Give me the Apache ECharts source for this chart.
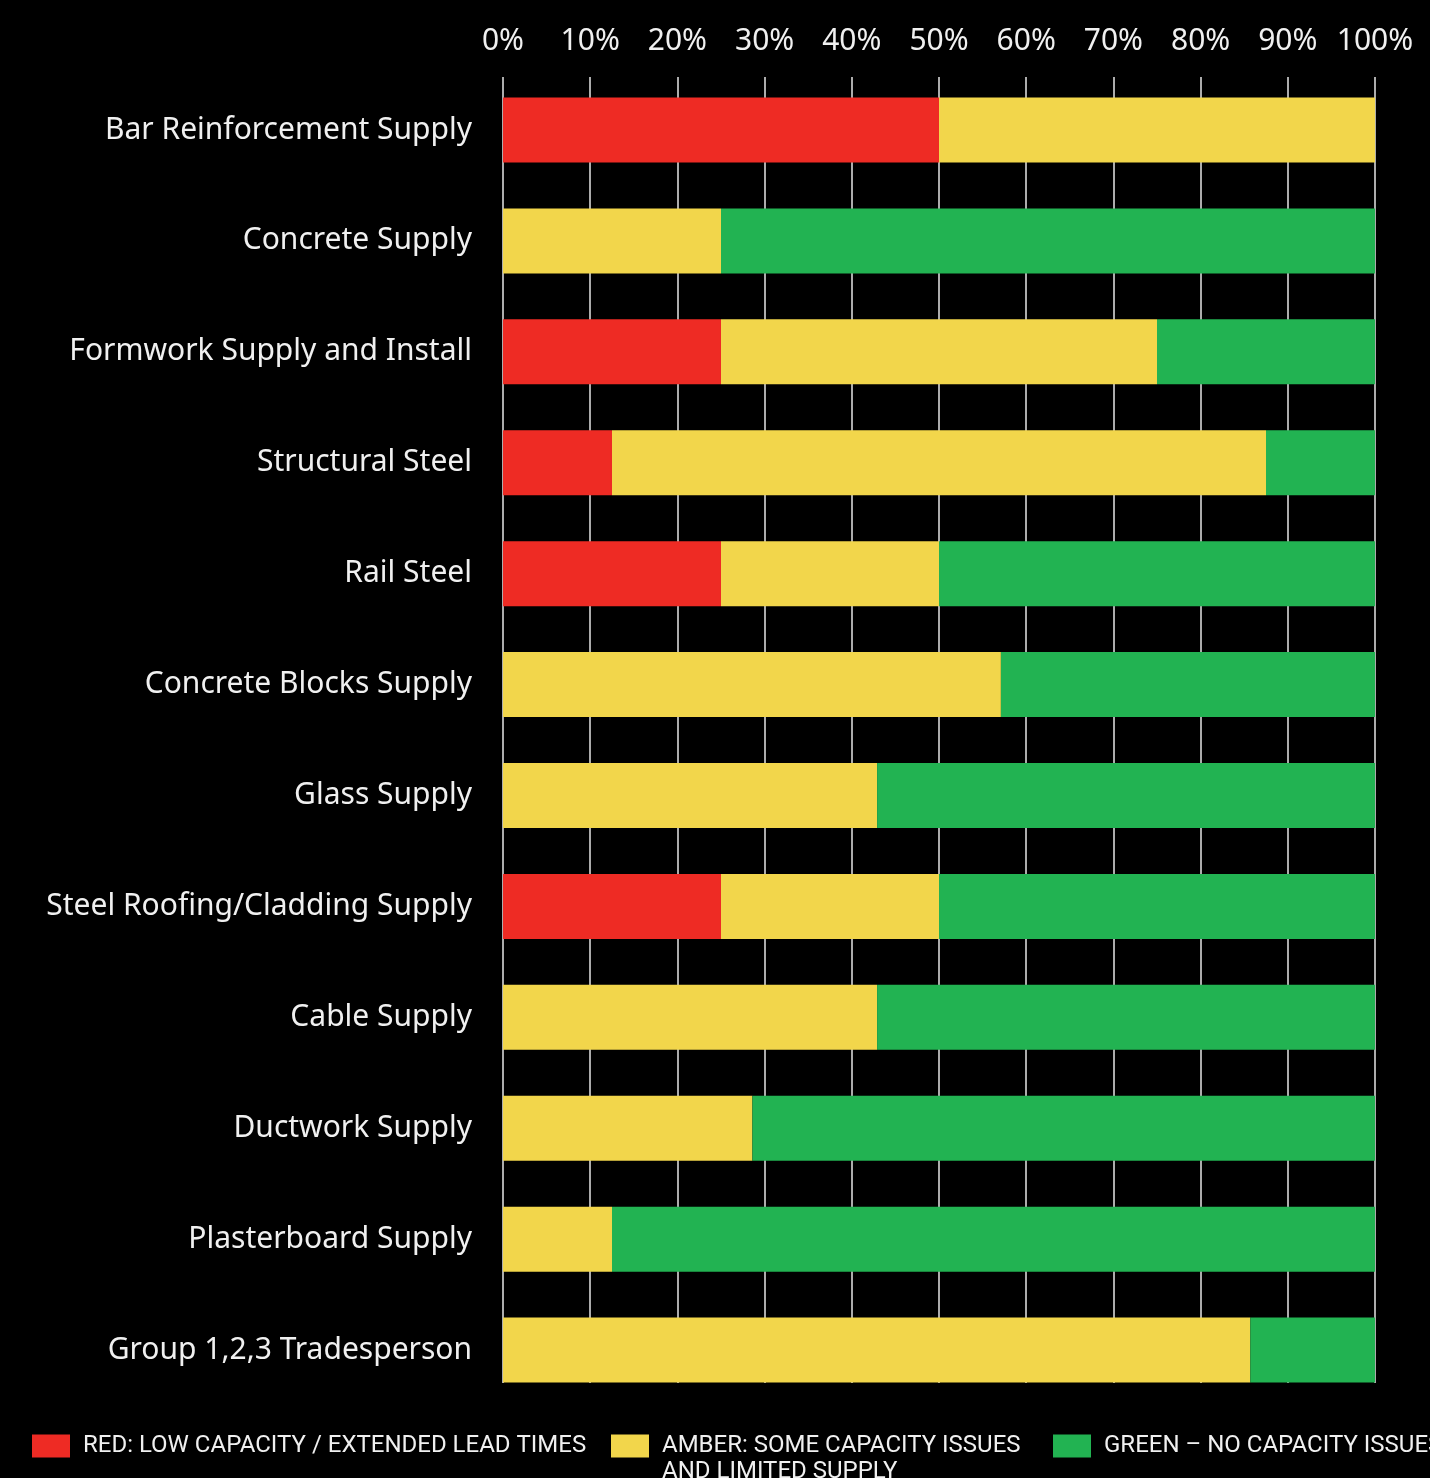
<!DOCTYPE html>
<html>
<head>
<meta charset="utf-8">
<script src="https://cdn.jsdelivr.net/npm/echarts@6/dist/echarts.min.js"></script>
<style>
  html, body { margin: 0; padding: 0; background: #000; }
  #chart { width: 1430px; height: 1478px; }
</style>
</head>
<body>
<div id="chart"></div>
<script>
// Supply-chain capacity ratings, share of responses per category (%)
const categories = [
  'Bar Reinforcement Supply',
  'Concrete Supply',
  'Formwork Supply and Install',
  'Structural Steel',
  'Rail Steel',
  'Concrete Blocks Supply',
  'Glass Supply',
  'Steel Roofing/Cladding Supply',
  'Cable Supply',
  'Ductwork Supply',
  'Plasterboard Supply',
  'Group 1,2,3 Tradesperson'
];
const redValues   = [50, 0, 25, 12.5, 25, 0, 0, 25, 0, 0, 0, 0];
const amberValues = [50, 25, 50, 75, 25, 57.1, 42.9, 25, 42.9, 28.6, 12.5, 85.7];
const greenValues = [0, 75, 25, 12.5, 50, 42.9, 57.1, 50, 57.1, 71.4, 87.5, 14.3];

const seriesNames = [
  'RED: LOW CAPACITY / EXTENDED LEAD TIMES',
  'AMBER: SOME CAPACITY ISSUES AND LIMITED SUPPLY',
  'GREEN \u2013 NO CAPACITY ISSUES'
];
const seriesColors = ['#EE2B24', '#F2D64B', '#22B352'];

const FONT = '"Noto Sans", "Open Sans", sans-serif';
const LEGEND_FONT = '"Liberation Sans Narrow", "Roboto", sans-serif';

const chart = echarts.init(document.getElementById('chart'), null, { renderer: 'canvas' });

// Each legend label is a three-line block centred on its swatch, so the
// first visible line sits level with the swatch.
function legendLabel(name) {
  if (name === seriesNames[0]) return '{r| }\n{r|' + name + '}\n{r| }';
  if (name === seriesNames[1]) return '{a| }\n{a|AMBER: SOME CAPACITY ISSUES}\n{a|AND LIMITED SUPPLY}';
  return '{g| }\n{g|' + name + '}\n{g| }';
}

const option = {
  backgroundColor: '#000000',
  animation: false,
  grid: [
    { left: 503, width: 872, top: 74.5, bottom: 72.5 },
    { left: 503, width: 872, top: 77, height: 1306 }
  ],
  legend: {
    left: 32,
    top: 1408,
    width: 2000,
    padding: 0,
    itemGap: 0,
    itemWidth: 38,
    itemHeight: 23,
    icon: 'rect',
    selectedMode: false,
    data: seriesNames,
    formatter: legendLabel,
    textStyle: {
      color: '#f0f0f0',
      fontFamily: LEGEND_FONT,
      fontSize: 24,
      padding: [0, 0, 0, 8],
      rich: {
        r: { width: 528, lineHeight: 26, fontFamily: LEGEND_FONT, fontSize: 24 },
        a: { width: 391, lineHeight: 26, fontFamily: LEGEND_FONT, fontSize: 24 },
        g: { width: 400, lineHeight: 26, fontFamily: LEGEND_FONT, fontSize: 24 }
      }
    }
  },
  xAxis: [
    {
      gridIndex: 0, type: 'value', min: 0, max: 100, interval: 10,
      show: false
    },
    {
      gridIndex: 1, type: 'value', min: 0, max: 100, interval: 10,
      position: 'top',
      axisLine: { show: false },
      axisTick: { show: false },
      axisLabel: {
        formatter: '{value}%',
        color: '#f0f0f0',
        fontFamily: FONT,
        fontSize: 30,
        margin: 21
      },
      splitLine: { show: true, lineStyle: { color: '#e6e6e6', width: 1.5 } }
    }
  ],
  yAxis: [
    {
      gridIndex: 0, type: 'category', data: categories, inverse: true,
      axisLine: { show: false },
      axisTick: { show: false },
      axisLabel: {
        color: '#f0f0f0',
        fontFamily: FONT,
        fontSize: 30,
        margin: 31
      }
    },
    {
      gridIndex: 1, type: 'value', min: 0, max: 1, show: false
    }
  ],
  series: [
    { name: seriesNames[0], data: redValues, color: seriesColors[0] },
    { name: seriesNames[1], data: amberValues, color: seriesColors[1] },
    { name: seriesNames[2], data: greenValues, color: seriesColors[2] }
  ].map(s => ({
    type: 'bar',
    stack: 'total',
    name: s.name,
    data: s.data,
    xAxisIndex: 0,
    yAxisIndex: 0,
    barWidth: 65,
    itemStyle: { color: s.color },
    z: 3
  }))
};

chart.setOption(option);
</script>
</body>
</html>
